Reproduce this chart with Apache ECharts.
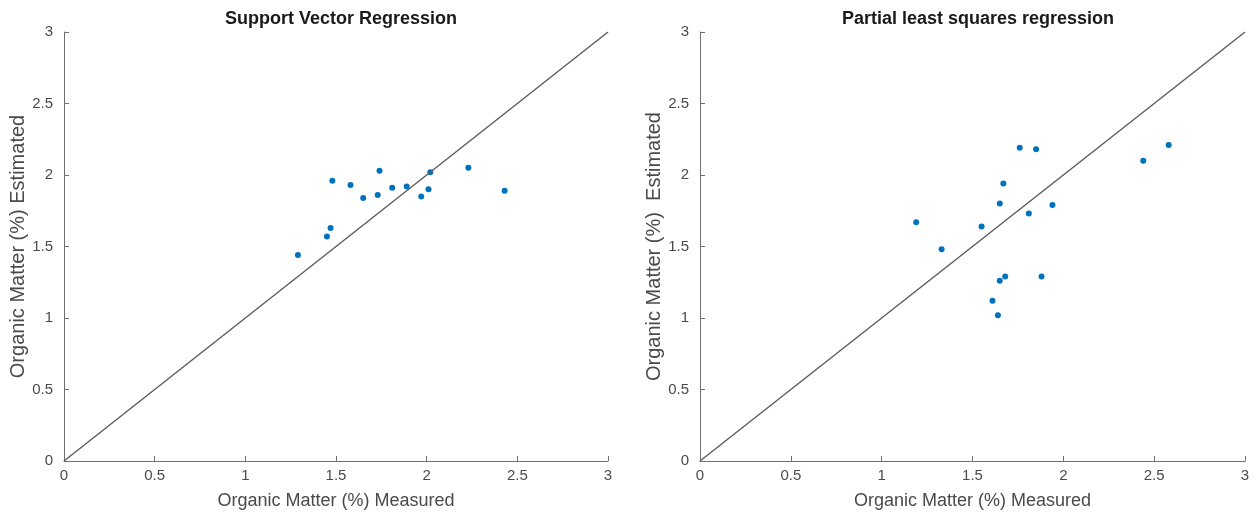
<!DOCTYPE html>
<html><head><meta charset="utf-8">
<script src="https://cdn.jsdelivr.net/npm/echarts@6/dist/echarts.min.js"></script>
<style>html,body{margin:0;padding:0;background:#fff}#c{width:1257px;height:515px}</style>
</head><body><div id="c"></div>
<script>
const titles = ["Support Vector Regression", "Partial least squares regression"];
const xName = "Organic Matter (%) Measured";
const yNames = ["Organic Matter (%) Estimated", "Organic Matter (%)  Estimated"];
const tickValues = [0, 0.5, 1, 1.5, 2, 2.5, 3];
const svrMeasured = [1.29, 1.45, 1.47, 1.48, 1.58, 1.65, 1.73, 1.74, 1.81, 1.89, 1.97, 2.01, 2.02, 2.23, 2.43];
const svrEstimated = [1.44, 1.57, 1.63, 1.96, 1.93, 1.84, 1.86, 2.03, 1.91, 1.92, 1.85, 1.90, 2.02, 2.05, 1.89];
const plsMeasured = [1.19, 1.33, 1.55, 1.65, 1.67, 1.76, 1.85, 1.81, 1.94, 1.68, 1.65, 1.88, 1.61, 1.64, 2.44, 2.58];
const plsEstimated = [1.67, 1.48, 1.64, 1.80, 1.94, 2.19, 2.18, 1.73, 1.79, 1.29, 1.26, 1.29, 1.12, 1.02, 2.10, 2.21];
const identityLine = [[0, 0], [3, 3]];

const font = "'Liberation Sans', Arial, sans-serif";
const axisColor = '#707070';
const textColor = '#4a4a4a';
const grids = [
  {left: 64, right: 649, top: 32, bottom: 54},
  {left: 700, right: 12, top: 32, bottom: 54}
];
function fmt(v){ return String(v); }
function xAxis(i){
  return {gridIndex: i, type: 'value', min: 0, max: 3, interval: 0.5,
    name: xName, nameLocation: 'middle', nameGap: 31,
    nameTextStyle: {fontFamily: font, fontSize: 18, color: textColor},
    axisLine: {show: true, lineStyle: {color: axisColor, width: 1}},
    axisTick: {show: true, inside: true, length: 5, lineStyle: {color: axisColor}},
    axisLabel: {fontFamily: font, fontSize: 15, color: textColor, margin: 7, formatter: fmt},
    splitLine: {show: false}};
}
function yAxis(i){
  return {gridIndex: i, type: 'value', min: 0, max: 3, interval: 0.5,
    name: yNames[i], nameLocation: 'middle', nameGap: 35,
    nameTextStyle: {fontFamily: font, fontSize: 20, color: textColor},
    axisLine: {show: true, lineStyle: {color: axisColor, width: 1}},
    axisTick: {show: true, inside: true, length: 5, lineStyle: {color: axisColor}},
    axisLabel: {fontFamily: font, fontSize: 15, color: textColor, margin: 11, formatter: fmt},
    splitLine: {show: false}};
}
function zip(a, b){ return a.map((v, k) => [v, b[k]]); }
const chart = echarts.init(document.getElementById('c'), null, {renderer: 'canvas'});
chart.setOption({
  backgroundColor: '#fff',
  animation: false,
  title: [
    {text: titles[0], left: 336, top: 5, textAlign: 'center', textStyle: {fontFamily: font, fontSize: 18, fontWeight: 'bold', color: '#1a1a1a'}},
    {text: titles[1], left: 973, top: 5, textAlign: 'center', textStyle: {fontFamily: font, fontSize: 18, fontWeight: 'bold', color: '#1a1a1a'}}
  ],
  grid: grids,
  xAxis: [xAxis(0), xAxis(1)],
  yAxis: [yAxis(0), yAxis(1)],
  series: [
    {type: 'line', xAxisIndex: 0, yAxisIndex: 0, data: identityLine, symbol: 'none', lineStyle: {color: '#5a5a5a', width: 1.4}, silent: true},
    {type: 'line', xAxisIndex: 1, yAxisIndex: 1, data: identityLine, symbol: 'none', lineStyle: {color: '#5a5a5a', width: 1.4}, silent: true},
    {type: 'scatter', xAxisIndex: 0, yAxisIndex: 0, data: zip(svrMeasured, svrEstimated), symbolSize: 6, itemStyle: {color: '#0072BD', opacity: 1}},
    {type: 'scatter', xAxisIndex: 1, yAxisIndex: 1, data: zip(plsMeasured, plsEstimated), symbolSize: 6, itemStyle: {color: '#0072BD', opacity: 1}}
  ]
});
</script></body></html>
